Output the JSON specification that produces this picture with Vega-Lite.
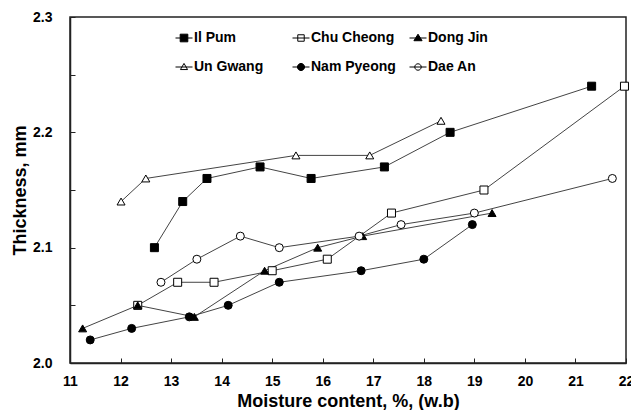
{
  "$schema": "https://vega.github.io/schema/vega-lite/v6.json",
  "width": 556,
  "height": 346,
  "autosize": {"type": "none"},
  "padding": {"left": 70, "top": 17, "right": 5, "bottom": 47},
  "background": "white",
  "config": {
    "view": {"stroke": "#222", "strokeWidth": 1.5},
    "font": "Liberation Sans",
    "axis": {
      "grid": false,
      "domainColor": "#222",
      "domainWidth": 1.5,
      "tickColor": "#222",
      "tickWidth": 1,
      "tickSize": -5,
      "labelFont": "Liberation Sans",
      "labelFontWeight": "bold",
      "labelFontSize": 14,
      "labelColor": "black",
      "titleFont": "Liberation Sans",
      "titleFontWeight": "bold",
      "titleFontSize": 18,
      "titleColor": "black"
    }
  },
  "data": {
    "values": [
      {"variety": "Il Pum", "mc": 12.67, "t": 2.10},
      {"variety": "Il Pum", "mc": 13.23, "t": 2.14},
      {"variety": "Il Pum", "mc": 13.71, "t": 2.16},
      {"variety": "Il Pum", "mc": 14.76, "t": 2.17},
      {"variety": "Il Pum", "mc": 15.77, "t": 2.16},
      {"variety": "Il Pum", "mc": 17.22, "t": 2.17},
      {"variety": "Il Pum", "mc": 18.52, "t": 2.20},
      {"variety": "Il Pum", "mc": 21.32, "t": 2.24},
      {"variety": "Chu Cheong", "mc": 12.34, "t": 2.05},
      {"variety": "Chu Cheong", "mc": 13.13, "t": 2.07},
      {"variety": "Chu Cheong", "mc": 13.85, "t": 2.07},
      {"variety": "Chu Cheong", "mc": 15.0, "t": 2.08},
      {"variety": "Chu Cheong", "mc": 16.09, "t": 2.09},
      {"variety": "Chu Cheong", "mc": 17.36, "t": 2.13},
      {"variety": "Chu Cheong", "mc": 19.19, "t": 2.15},
      {"variety": "Chu Cheong", "mc": 21.97, "t": 2.24},
      {"variety": "Dong Jin", "mc": 11.25, "t": 2.03},
      {"variety": "Dong Jin", "mc": 12.34, "t": 2.05},
      {"variety": "Dong Jin", "mc": 13.46, "t": 2.04},
      {"variety": "Dong Jin", "mc": 14.85, "t": 2.08},
      {"variety": "Dong Jin", "mc": 15.9, "t": 2.10},
      {"variety": "Dong Jin", "mc": 16.79, "t": 2.11},
      {"variety": "Dong Jin", "mc": 19.35, "t": 2.13},
      {"variety": "Un Gwang", "mc": 12.01, "t": 2.14},
      {"variety": "Un Gwang", "mc": 12.5, "t": 2.16},
      {"variety": "Un Gwang", "mc": 15.47, "t": 2.18},
      {"variety": "Un Gwang", "mc": 16.93, "t": 2.18},
      {"variety": "Un Gwang", "mc": 18.34, "t": 2.21},
      {"variety": "Nam Pyeong", "mc": 11.4, "t": 2.02},
      {"variety": "Nam Pyeong", "mc": 12.22, "t": 2.03},
      {"variety": "Nam Pyeong", "mc": 13.36, "t": 2.04},
      {"variety": "Nam Pyeong", "mc": 14.13, "t": 2.05},
      {"variety": "Nam Pyeong", "mc": 15.14, "t": 2.07},
      {"variety": "Nam Pyeong", "mc": 16.76, "t": 2.08},
      {"variety": "Nam Pyeong", "mc": 18.0, "t": 2.09},
      {"variety": "Nam Pyeong", "mc": 18.96, "t": 2.12},
      {"variety": "Dae An", "mc": 12.8, "t": 2.07},
      {"variety": "Dae An", "mc": 13.51, "t": 2.09},
      {"variety": "Dae An", "mc": 14.37, "t": 2.11},
      {"variety": "Dae An", "mc": 15.14, "t": 2.10},
      {"variety": "Dae An", "mc": 16.72, "t": 2.11},
      {"variety": "Dae An", "mc": 17.55, "t": 2.12},
      {"variety": "Dae An", "mc": 19.0, "t": 2.13},
      {"variety": "Dae An", "mc": 21.73, "t": 2.16}
    ]
  },
  "encoding": {
    "x": {
      "field": "mc", "type": "quantitative",
      "scale": {"domain": [11, 22], "nice": false, "zero": false},
      "axis": {"values": [11,12,13,14,15,16,17,18,19,20,21,22], "title": "Moisture content, %, (w.b)", "labelPadding": 16, "titlePadding": 4, "labelFlush": false}
    },
    "y": {
      "field": "t", "type": "quantitative",
      "scale": {"domain": [2.0, 2.3], "nice": false, "zero": false},
      "axis": {
        "values": [2.0, 2.05, 2.1, 2.15, 2.2, 2.25, 2.3],
        "labelExpr": "abs(datum.value*10 - round(datum.value*10)) < 0.01 ? format(datum.value, '.1f') : ''",
        "title": "Thickness, mm", "labelPadding": 23, "titlePadding": 3, "labelFlush": false
      }
    }
  },
  "layer": [
    {
      "mark": {"type": "line", "color": "#444", "strokeWidth": 1},
      "encoding": {"detail": {"field": "variety"}}
    },
    {
      "mark": {"type": "point", "filled": false, "stroke": "black", "strokeWidth": 1, "size": 64, "opacity": 1},
      "encoding": {
        "shape": {
          "field": "variety", "type": "nominal",
          "scale": {"domain": ["Il Pum", "Un Gwang", "Chu Cheong", "Nam Pyeong", "Dong Jin", "Dae An"], "range": ["square", "triangle-up", "square", "circle", "triangle-up", "circle"]},
          "legend": null
        },
        "fill": {
          "field": "variety", "type": "nominal",
          "scale": {"domain": ["Il Pum", "Un Gwang", "Chu Cheong", "Nam Pyeong", "Dong Jin", "Dae An"], "range": ["black", "white", "white", "black", "black", "white"]},
          "legend": null
        }
      }
    },
    {
      "mark": {"type": "point", "filled": false, "stroke": "black", "strokeWidth": 1, "size": 289, "opacity": 0},
      "encoding": {
        "shape": {
          "field": "variety", "type": "nominal",
          "scale": {"domain": ["Il Pum", "Un Gwang", "Chu Cheong", "Nam Pyeong", "Dong Jin", "Dae An"], "range": [
            "M-1,0H1M-0.45,-0.45H0.45V0.45H-0.45Z",
            "M-1,0H1M0,-0.42L0.42,0.3H-0.42Z",
            "M-1,0H1M-0.38,-0.38H0.38V0.38H-0.38Z",
            "M-1,0H1M0.42,0A0.42,0.42,0,1,1,-0.42,0A0.42,0.42,0,1,1,0.42,0Z",
            "M-1,0H1M0,-0.45L0.48,0.32H-0.48Z",
            "M-1,0H1M0.38,0A0.38,0.38,0,1,1,-0.38,0A0.38,0.38,0,1,1,0.38,0Z"
          ]},
          "legend": {
            "title": null, "orient": "none", "legendX": 105, "legendY": 12, "columns": 3,
            "gridAlign": "all", "columnPadding": 11, "rowPadding": 13, "padding": 0,
            "labelFont": "Liberation Sans", "labelFontWeight": "bold", "labelFontSize": 14, "labelColor": "black", "labelOffset": 1,
            "symbolStrokeColor": "black", "symbolStrokeWidth": 1, "symbolSize": 289, "symbolOpacity": 1,
            "encode": {"symbols": {"update": {"opacity": {"value": 1}}}}
          }
        },
        "fill": {
          "field": "variety", "type": "nominal",
          "scale": {"domain": ["Il Pum", "Un Gwang", "Chu Cheong", "Nam Pyeong", "Dong Jin", "Dae An"], "range": ["black", "white", "white", "black", "black", "white"]},
          "legend": {
            "title": null, "orient": "none", "legendX": 105, "legendY": 12, "columns": 3,
            "gridAlign": "all", "columnPadding": 11, "rowPadding": 13, "padding": 0,
            "labelFont": "Liberation Sans", "labelFontWeight": "bold", "labelFontSize": 14, "labelColor": "black", "labelOffset": 1,
            "symbolStrokeColor": "black", "symbolStrokeWidth": 1, "symbolSize": 289, "symbolOpacity": 1,
            "encode": {"symbols": {"update": {"opacity": {"value": 1}}}}
          }
        }
      }
    }
  ],
  "resolve": {"scale": {"shape": "independent", "fill": "independent"}, "legend": {"shape": "independent", "fill": "independent"}}
}
